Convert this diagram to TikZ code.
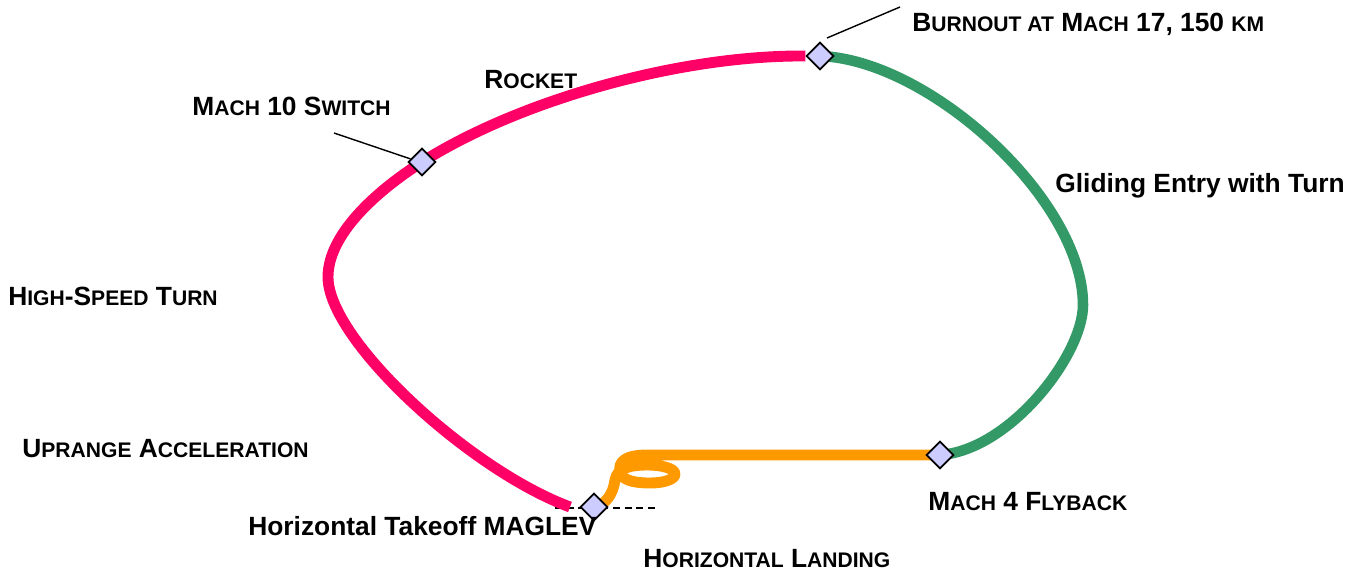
\documentclass[tikz,border=0pt]{standalone}
\usepackage{fontspec}
\setmainfont{Liberation Sans}
\usetikzlibrary{shapes.geometric,backgrounds}
\definecolor{rocketpink}{RGB}{255,0,102}
\definecolor{glidegreen}{RGB}{51,153,102}
\definecolor{flyorange}{RGB}{255,153,0}
\definecolor{stagefill}{RGB}{204,204,255}
\newcommand\smc[1]{{\fontsize{12}{14}\selectfont #1}}
\tikzset{
  stage/.style={diamond,draw=black,line width=1pt,fill=stagefill,minimum size=0.55cm,inner sep=0pt},
  phase/.style={font=\fontsize{15}{18}\selectfont\bfseries,anchor=base west,inner sep=0pt},
  leader/.style={line width=0.8pt},
  rocket/.style={draw=rocketpink,line width=6.2pt},
  glide/.style={draw=glidegreen,line width=6pt},
  flyback/.style={draw=flyorange,line width=6.2pt,line join=round}
}

\begin{document}
\begin{tikzpicture}[x=0.02cm,y=-0.02cm]
\useasboundingbox (0,0) rectangle (1363,571);
\coordinate (launch) at (570,507);
\coordinate (apex) at (328,277);
\coordinate (turnout) at (1083,305);
\coordinate (brake) at (647,455);
\coordinate (dashL) at (555,508);
\coordinate (dashR) at (657,508);
\coordinate (burnouttip) at (827,38);
\coordinate (burnoutend) at (900,7);
\coordinate (switchend) at (334,133);
\node[stage] (switch) at (422,162) {};
\node[stage] (burnout) at (820,56) {};
\node[stage] (mach4) at (940,455) {};
\node[stage] (landing) at (594,507) {};
\begin{pgfonlayer}{background}
\draw[dash pattern=on 4pt off 2.6pt,line width=0.8pt] (dashL) -- (dashR);
\draw[rocket] (launch) .. controls (470,470) and (328,340) .. (apex)
  .. controls (328,235) and (375,192) .. (switch.center)
  .. controls (520,100) and (680,55) .. (burnout.west);
\draw[glide] (burnout.center) .. controls (930,60) and (1083,200) .. (turnout)
  .. controls (1083,355) and (1010,450) .. (mach4.center);
\draw[flyback] (mach4.center) -- (brake) .. controls (625,455) and (618,462) .. (620,472)
  .. controls (622,482) and (640,483) .. (650,483) .. controls (665,483) and (675,479) .. (675,474)
  .. controls (675,468) and (660,465) .. (648,465) .. controls (630,465) and (617,468) .. (615,480)
  .. controls (613,495) and (605,505) .. (landing.center);
\end{pgfonlayer}
\draw[leader] (burnoutend) -- (burnouttip);
\draw[leader] (switchend) -- (switch.165);
\node[phase] (burnoutlbl) at (912,32) {B\smc{URNOUT AT} M\smc{ACH} 17, 150 \smc{KM}};
\node[phase] (rocketlbl) at (484,89) {R\smc{OCKET}};
\node[phase] (switchlbl) at (192,116) {M\smc{ACH} 10 S\smc{WITCH}};
\node[phase] (glidelbl) at (1055,193) {Gliding Entry with Turn};
\node[phase] (turnlbl) at (8,305) {H\smc{IGH}-S\smc{PEED} T\smc{URN}};
\node[phase] (uprangelbl) at (22,457) {U\smc{PRANGE} A\smc{CCELERATION}};
\node[phase] (mach4lbl) at (928,510) {M\smc{ACH} 4 F\smc{LYBACK}};
\node[phase] (takeofflbl) at (248,535) {Horizontal Takeoff MAGLEV};
\node[phase] (landinglbl) at (643,567) {H\smc{ORIZONTAL} L\smc{ANDING}};
\end{tikzpicture}
\end{document}
